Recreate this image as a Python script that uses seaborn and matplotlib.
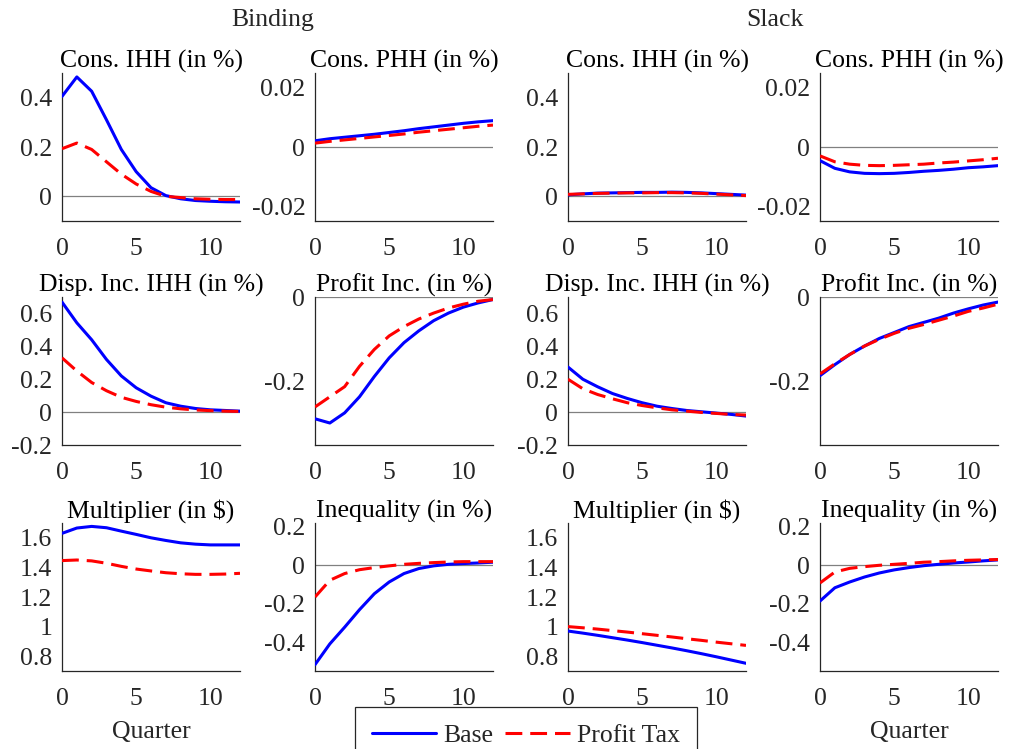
import numpy as np
import pandas as pd
import matplotlib
matplotlib.use("Agg")
import matplotlib.pyplot as plt
import seaborn as sns

quarters = list(range(13))

# --- Binding ---
cons_ihh_bind_base = [0.405, 0.484, 0.426, 0.31, 0.19, 0.10, 0.035, 0.003, -0.01, -0.017, -0.02, -0.022, -0.023]
cons_ihh_bind_tax = [0.193, 0.216, 0.19, 0.14, 0.09, 0.05, 0.02, 0.0, -0.005, -0.01, -0.012, -0.013, -0.013]
cons_phh_bind_base = [0.0021, 0.0028, 0.0033, 0.0038, 0.0043, 0.0049, 0.0055, 0.0062, 0.0068, 0.0074, 0.0080, 0.0085, 0.0089]
cons_phh_bind_tax = [0.0013, 0.0019, 0.0024, 0.0029, 0.0034, 0.0039, 0.0044, 0.0050, 0.0055, 0.0060, 0.0065, 0.0070, 0.0074]
disp_ihh_bind_base = [0.669, 0.543, 0.44, 0.32, 0.22, 0.148, 0.097, 0.057, 0.036, 0.022, 0.014, 0.01, 0.006]
disp_ihh_bind_tax = [0.33, 0.25, 0.18, 0.13, 0.09, 0.065, 0.045, 0.03, 0.02, 0.013, 0.009, 0.006, 0.004]
profit_bind_base = [-0.288, -0.298, -0.274, -0.236, -0.188, -0.144, -0.108, -0.08, -0.056, -0.038, -0.024, -0.014, -0.006]
profit_bind_tax = [-0.26, -0.236, -0.212, -0.164, -0.124, -0.092, -0.07, -0.052, -0.038, -0.026, -0.017, -0.01, -0.006]
mult_bind_base = [1.63, 1.666, 1.677, 1.668, 1.645, 1.623, 1.60, 1.582, 1.566, 1.557, 1.552, 1.552, 1.552]
mult_bind_tax = [1.446, 1.45, 1.444, 1.428, 1.407, 1.389, 1.376, 1.364, 1.357, 1.353, 1.353, 1.355, 1.36]
ineq_bind_base = [-0.517, -0.409, -0.322, -0.231, -0.148, -0.087, -0.043, -0.017, -0.003, 0.005, 0.009, 0.012, 0.016]
ineq_bind_tax = [-0.165, -0.078, -0.043, -0.023, -0.012, -0.003, 0.005, 0.01, 0.014, 0.017, 0.019, 0.019, 0.019]

# --- Slack ---
cons_ihh_slack_base = [0.006, 0.010, 0.013, 0.014, 0.015, 0.016, 0.016, 0.017, 0.016, 0.014, 0.011, 0.008, 0.005]
cons_ihh_slack_tax = [0.008, 0.010, 0.012, 0.013, 0.014, 0.014, 0.015, 0.015, 0.014, 0.012, 0.009, 0.006, 0.003]
cons_phh_slack_base = [-0.0046, -0.0072, -0.0084, -0.0089, -0.0090, -0.0089, -0.0086, -0.0082, -0.0079, -0.0075, -0.0070, -0.0067, -0.0063]
cons_phh_slack_tax = [-0.0030, -0.0050, -0.0058, -0.0062, -0.0063, -0.0062, -0.0060, -0.0058, -0.0054, -0.0051, -0.0047, -0.0043, -0.0038]
disp_ihh_slack_base = [0.274, 0.2, 0.154, 0.113, 0.083, 0.057, 0.036, 0.022, 0.01, 0.002, -0.006, -0.014, -0.024]
disp_ihh_slack_tax = [0.2, 0.142, 0.107, 0.081, 0.057, 0.04, 0.026, 0.014, 0.006, -0.002, -0.008, -0.014, -0.018]
profit_slack_base = [-0.186, -0.16, -0.136, -0.116, -0.098, -0.084, -0.07, -0.06, -0.05, -0.038, -0.028, -0.019, -0.012]
profit_slack_tax = [-0.182, -0.158, -0.136, -0.116, -0.1, -0.086, -0.074, -0.065, -0.055, -0.045, -0.034, -0.026, -0.017]
mult_slack_base = [0.970, 0.956, 0.941, 0.925, 0.909, 0.892, 0.874, 0.856, 0.837, 0.817, 0.796, 0.774, 0.752]
mult_slack_tax = [1.0, 0.992, 0.983, 0.973, 0.963, 0.952, 0.941, 0.930, 0.918, 0.907, 0.895, 0.884, 0.873]
ineq_slack_base = [-0.186, -0.117, -0.087, -0.061, -0.04, -0.024, -0.012, -0.002, 0.005, 0.012, 0.017, 0.023, 0.028]
ineq_slack_tax = [-0.092, -0.035, -0.016, -0.007, 0.0, 0.005, 0.01, 0.016, 0.019, 0.023, 0.026, 0.028, 0.03]

titles = ["Cons. IHH (in %)", "Cons. PHH (in %)", "Disp. Inc. IHH (in %)", "Profit Inc. (in %)",
          "Multiplier (in $)", "Inequality (in %)"]
ylims = [(-0.1, 0.5), (-0.025, 0.025), (-0.2, 0.7), (-0.35, 0.0), (0.7, 1.7), (-0.55, 0.22)]
yticks = [[0, 0.2, 0.4], [-0.02, 0, 0.02], [-0.2, 0, 0.2, 0.4, 0.6], [-0.2, 0],
          [0.8, 1, 1.2, 1.4, 1.6], [-0.4, -0.2, 0, 0.2]]

binding = [(cons_ihh_bind_base, cons_ihh_bind_tax), (cons_phh_bind_base, cons_phh_bind_tax),
           (disp_ihh_bind_base, disp_ihh_bind_tax), (profit_bind_base, profit_bind_tax),
           (mult_bind_base, mult_bind_tax), (ineq_bind_base, ineq_bind_tax)]
slack = [(cons_ihh_slack_base, cons_ihh_slack_tax), (cons_phh_slack_base, cons_phh_slack_tax),
         (disp_ihh_slack_base, disp_ihh_slack_tax), (profit_slack_base, profit_slack_tax),
         (mult_slack_base, mult_slack_tax), (ineq_slack_base, ineq_slack_tax)]

sns.set_style("white")
plt.rcParams['font.family'] = ['Liberation Serif', 'DejaVu Serif']
plt.rcParams['axes.unicode_minus'] = False
FS = 18.5
DARK = "#262626"
DASH = [5.5, 2.6]

W, H = 1009, 749
fig = plt.figure(figsize=(W / 100, H / 100), dpi=100)

col_left = [62, 315, 568, 820]
row_top = [73, 297, 523]
aw, ah = 178, 148

for k in range(6):
    r = k // 2
    for block, series in enumerate([binding, slack]):
        c = block * 2 + (k % 2)
        ax = fig.add_axes([col_left[c] / W, 1 - (row_top[r] + ah) / H, aw / W, ah / H])
        base, tax = series[k]
        ax.axhline(0, color="#808080", lw=0.9, zorder=1)
        sns.lineplot(x=quarters, y=base, ax=ax, color="#0000ff", lw=2.2, label="Base", legend=False, zorder=3)
        sns.lineplot(x=quarters, y=tax, ax=ax, color="#ff0000", lw=2.2, label="Profit Tax", legend=False,
                     zorder=4)
        ax.lines[-1].set_dashes(DASH)
        ax.set_xlim(0, 12)
        ax.set_ylim(*ylims[k])
        ax.set_xticks([0, 5, 10])
        ax.set_yticks(yticks[k])
        ax.set_yticklabels([f"{v:g}" for v in yticks[k]])
        ax.set_title(titles[k], fontsize=FS, pad=4, color="black")
        sns.despine(ax=ax)
        for s in ["left", "bottom"]:
            ax.spines[s].set_color(DARK)
            ax.spines[s].set_linewidth(0.9)
        ax.tick_params(direction="in", length=4, width=0.9, color=DARK, labelsize=FS, labelcolor=DARK, pad=7)
        ax.tick_params(axis="x", pad=12)
        if r == 2 and c in (0, 3):
            ax.set_xlabel("Quarter", fontsize=FS, color=DARK, labelpad=8)
        if r == 2 and c == 0:
            handles, labels = ax.get_legend_handles_labels()

fig.text(273 / W, 1 - 20 / H, "Binding", ha="center", va="center", fontsize=FS)
fig.text(775 / W, 1 - 20 / H, "Slack", ha="center", va="center", fontsize=FS)

leg = fig.legend(handles, labels, loc="upper center", bbox_to_anchor=(526 / W, 1 - 707 / H), ncol=2,
                 fontsize=FS, frameon=True, fancybox=False, edgecolor=DARK, framealpha=1,
                 handlelength=2.5, columnspacing=0.45, handletextpad=0.3, borderpad=0.65, borderaxespad=0)
leg.get_frame().set_linewidth(0.9)

plt.savefig("out.png", dpi=100)
